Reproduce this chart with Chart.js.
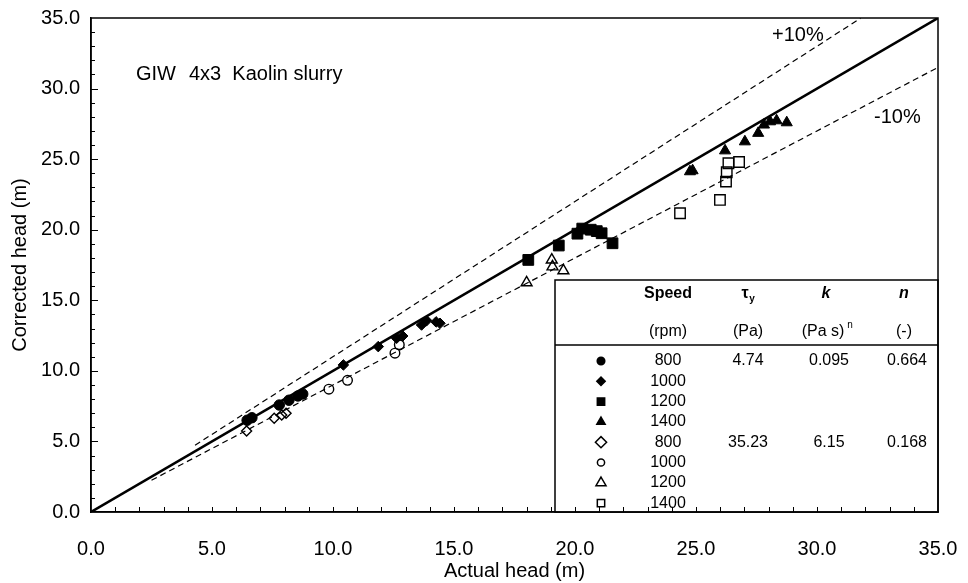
<!DOCTYPE html>
<html>
<head>
<meta charset="utf-8">
<script src="https://cdn.jsdelivr.net/npm/chart.js@4.4.0/dist/chart.umd.min.js"></script>
<style>
html, body { margin: 0; padding: 0; background: #fff; }
#wrap { width: 968px; height: 583px; }
</style>
</head>
<body>
<div id="wrap"><canvas id="chart" width="968" height="583"></canvas></div>
<script>
// 坐标刻度
const xTickValues = [0, 5, 10, 15, 20, 25, 30, 35];
const yTickValues = [0, 5, 10, 15, 20, 25, 30, 35];

// 参考线: 1:1, +10%, -10%
const equalX = [0, 35];
const equalY = [0, 35];
const plusTenX = [4.3, 31.8];
const plusTenY = [4.73, 34.98];
const minusTenX = [2.5, 35];
const minusTenY = [2.25, 31.5];

// 浆体 A (实心符号)
const a800X = [6.45, 6.65, 7.78, 8.18, 8.55, 8.75];
const a800Y = [6.5, 6.68, 7.58, 7.92, 8.22, 8.36];
const a1000X = [10.43, 11.87, 12.63, 12.88, 13.66, 13.87, 14.26, 14.42];
const a1000Y = [10.42, 11.72, 12.31, 12.47, 13.25, 13.56, 13.47, 13.37];
const a1200X = [18.07, 19.33, 20.1, 20.3, 20.65, 20.9, 21.1, 21.55];
const a1200Y = [17.86, 18.88, 19.72, 20.08, 20.0, 19.9, 19.75, 19.04];
const a1400X = [24.75, 24.86, 26.2, 27.02, 27.57, 27.81, 28.06, 28.33, 28.75];
const a1400Y = [24.12, 24.19, 25.6, 26.24, 26.84, 27.43, 27.66, 27.73, 27.59];

// 浆体 B (空心符号)
const b800X = [6.43, 7.57, 7.88, 8.06];
const b800Y = [5.74, 6.64, 6.87, 7.0];
const b1000X = [9.83, 10.6, 12.56, 12.74];
const b1000Y = [8.7, 9.33, 11.25, 11.85];
const b1200X = [18.0, 19.04, 19.07, 19.52];
const b1200Y = [16.25, 17.86, 17.38, 17.1];
const b1400X = [24.34, 25.99, 26.24, 26.27, 26.34, 26.78];
const b1400Y = [21.17, 22.11, 23.41, 24.07, 24.71, 24.8];

// 图例表格
const legendSpeeds = ['800', '1000', '1200', '1400', '800', '1000', '1200', '1400'];
const tauValues = ['4.74', '35.23'];
const kValues = ['0.095', '6.15'];
const nValues = ['0.664', '0.168'];

const FONT = 'Arial, "Liberation Sans", sans-serif';

function pts(xs, ys) {
    return xs.map((x, i) => ({ x: x, y: ys[i] }));
}

// 符号样式
const markerStyles = [
    { style: 'circle', r: 5.2, filled: true, lr: 3.8 },
    { style: 'rectRot', r: 5.3, filled: true, lr: 4.2 },
    { style: 'rect', r: 7.6, filled: true, lr: 5.2 },
    { style: 'triangle', r: 6.4, filled: true, lr: 4.8 },
    { style: 'rectRot', r: 5, filled: false, lr: 5.6 },
    { style: 'circle', r: 4.8, filled: false, lr: 3.6 },
    { style: 'triangle', r: 6.3, filled: false, lr: 5.8 },
    { style: 'rect', r: 7.4, filled: false, lr: 5.2 }
];
const seriesData = [
    pts(a800X, a800Y), pts(a1000X, a1000Y), pts(a1200X, a1200Y), pts(a1400X, a1400Y),
    pts(b800X, b800Y), pts(b1000X, b1000Y), pts(b1200X, b1200Y), pts(b1400X, b1400Y)
];

const markerSets = seriesData.map((d, i) => {
    const m = markerStyles[i];
    return {
        type: 'scatter',
        data: d,
        pointStyle: m.style,
        pointRadius: m.r,
        pointBackgroundColor: m.filled ? '#000' : 'rgba(0,0,0,0)',
        pointBorderColor: '#000',
        pointBorderWidth: m.filled ? 1 : 1.4,
        showLine: false,
        order: 0
    };
});

function refLine(xs, ys, width, dash) {
    return {
        type: 'line',
        data: pts(xs, ys),
        borderColor: '#000',
        borderWidth: width,
        borderDash: dash,
        pointRadius: 0,
        showLine: true,
        fill: false,
        order: 1
    };
}

// 边框和内向刻度
const frameAndTicks = {
    id: 'frameAndTicks',
    afterDraw(chart) {
        const { ctx, chartArea: ca, scales: { x, y } } = chart;
        ctx.save();
        ctx.strokeStyle = '#000';
        ctx.lineWidth = 1;
        for (let v = x.min + 1; v < x.max; v++) {
            const px = Math.round(x.getPixelForValue(v)) + 0.5;
            ctx.beginPath();
            ctx.moveTo(px, ca.bottom);
            ctx.lineTo(px, ca.bottom - 5);
            ctx.stroke();
        }
        for (let v = y.min + 1; v < y.max; v++) {
            const py = Math.round(y.getPixelForValue(v)) + 0.5;
            const len = v % 5 === 0 ? 7 : 4;
            ctx.beginPath();
            ctx.moveTo(ca.left, py);
            ctx.lineTo(ca.left + len, py);
            ctx.stroke();
        }
        ctx.lineWidth = 1.5;
        ctx.strokeRect(ca.left, ca.top, ca.right - ca.left, ca.bottom - ca.top);
        ctx.restore();
    }
};

// 文字注释与图例表格
const tableLegend = {
    id: 'tableLegend',
    afterDatasetsDraw(chart) {
        const { ctx, chartArea: ca } = chart;
        ctx.save();
        ctx.fillStyle = '#000';
        ctx.textBaseline = 'middle';
        ctx.textAlign = 'left';
        ctx.font = '20px ' + FONT;
        ctx.fillText('GIW', ca.left + 45, ca.top + 56);
        ctx.fillText('4x3  Kaolin slurry', ca.left + 98, ca.top + 56);
        ctx.fillText('+10%', ca.left + 681, ca.top + 17);
        ctx.fillText('-10%', ca.left + 783, ca.top + 99);

        const left = ca.right - 383, top = ca.top + 262;
        const right = ca.right, bottom = ca.bottom;
        ctx.fillStyle = '#fff';
        ctx.fillRect(left, top, right - left, bottom - top);
        ctx.strokeStyle = '#000';
        ctx.lineWidth = 1.5;
        ctx.strokeRect(left, top, right - left, bottom - top);
        ctx.beginPath();
        ctx.moveTo(left, top + 65);
        ctx.lineTo(right, top + 65);
        ctx.stroke();

        const cSpeed = left + 113, cTau = left + 193, cK = left + 271, cN = left + 349;
        ctx.fillStyle = '#000';
        ctx.textAlign = 'center';
        ctx.font = 'bold 16px ' + FONT;
        ctx.fillText('Speed', cSpeed, top + 14);
        ctx.fillText('\u03c4', cTau - 3, top + 14);
        ctx.font = 'bold 10px ' + FONT;
        ctx.fillText('y', cTau + 4, top + 19);
        ctx.font = 'italic bold 16px ' + FONT;
        ctx.fillText('k', cK, top + 14);
        ctx.fillText('n', cN, top + 14);

        ctx.font = '16px ' + FONT;
        ctx.fillText('(rpm)', cSpeed, top + 52);
        ctx.fillText('(Pa)', cTau, top + 52);
        ctx.fillText('(Pa s)', cK - 3, top + 52);
        ctx.font = '10px ' + FONT;
        ctx.fillText('n', cK + 24, top + 45);
        ctx.font = '16px ' + FONT;
        ctx.fillText('(-)', cN, top + 52);

        legendSpeeds.forEach((s, i) => {
            const ry = top + 81 + i * 20.3;
            ctx.font = '16px ' + FONT;
            ctx.fillStyle = '#000';
            ctx.fillText(s, cSpeed, ry);
            const m = markerStyles[i];
            ctx.fillStyle = m.filled ? '#000' : 'rgba(0,0,0,0)';
            ctx.strokeStyle = '#000';
            Chart.helpers.drawPoint(ctx, {
                pointStyle: m.style, radius: m.lr, rotation: 0,
                borderWidth: m.filled ? 1 : 1.8
            }, left + 46, ry);
        });
        ctx.fillStyle = '#000';
        ctx.font = '16px ' + FONT;
        [0, 4].forEach((row, j) => {
            const ry = top + 81 + row * 20.3;
            ctx.fillText(tauValues[j], cTau, ry);
            ctx.fillText(kValues[j], cK + 3, ry);
            ctx.fillText(nValues[j], cN + 3, ry);
        });
        ctx.restore();
    }
};

const tickFont = { family: FONT, size: 20 };

new Chart(document.getElementById('chart'), {
    type: 'scatter',
    data: {
        datasets: [
            refLine(equalX, equalY, 2.5, []),
            refLine(plusTenX, plusTenY, 1.2, [6, 4]),
            refLine(minusTenX, minusTenY, 1.2, [6, 4])
        ].concat(markerSets)
    },
    options: {
        responsive: false,
        animation: false,
        devicePixelRatio: 1,
        layout: { padding: { left: 0, top: 18, right: 30, bottom: 0 } },
        plugins: { legend: { display: false }, tooltip: { enabled: false } },
        scales: {
            x: {
                type: 'linear',
                min: 0, max: 35,
                afterBuildTicks: s => { s.ticks = xTickValues.map(v => ({ value: v })); },
                afterFit: s => { s.height = 71; s.paddingLeft = 0; s.paddingRight = 0; },
                grid: { display: false, drawTicks: false },
                border: { display: true, color: '#000', width: 1.5 },
                ticks: { color: '#000', font: tickFont, padding: 25, maxRotation: 0,
                         callback: v => Number(v).toFixed(1) },
                title: { display: true, text: 'Actual head (m)', color: '#000', font: tickFont,
                         padding: { top: 0, bottom: 0 } }
            },
            y: {
                type: 'linear',
                min: 0, max: 35,
                afterBuildTicks: s => { s.ticks = yTickValues.map(v => ({ value: v })); },
                afterFit: s => { s.width = 91; s.paddingTop = 0; s.paddingBottom = 0; },
                grid: { display: false, drawTicks: false },
                border: { display: true, color: '#000', width: 1.5 },
                ticks: { color: '#000', font: tickFont, padding: 11,
                         callback: v => Number(v).toFixed(1) },
                title: { display: true, text: 'Corrected head (m)', color: '#000', font: tickFont,
                         padding: { top: 8, bottom: 0 } }
            }
        }
    },
    plugins: [tableLegend, frameAndTicks]
});
</script>
</body>
</html>
